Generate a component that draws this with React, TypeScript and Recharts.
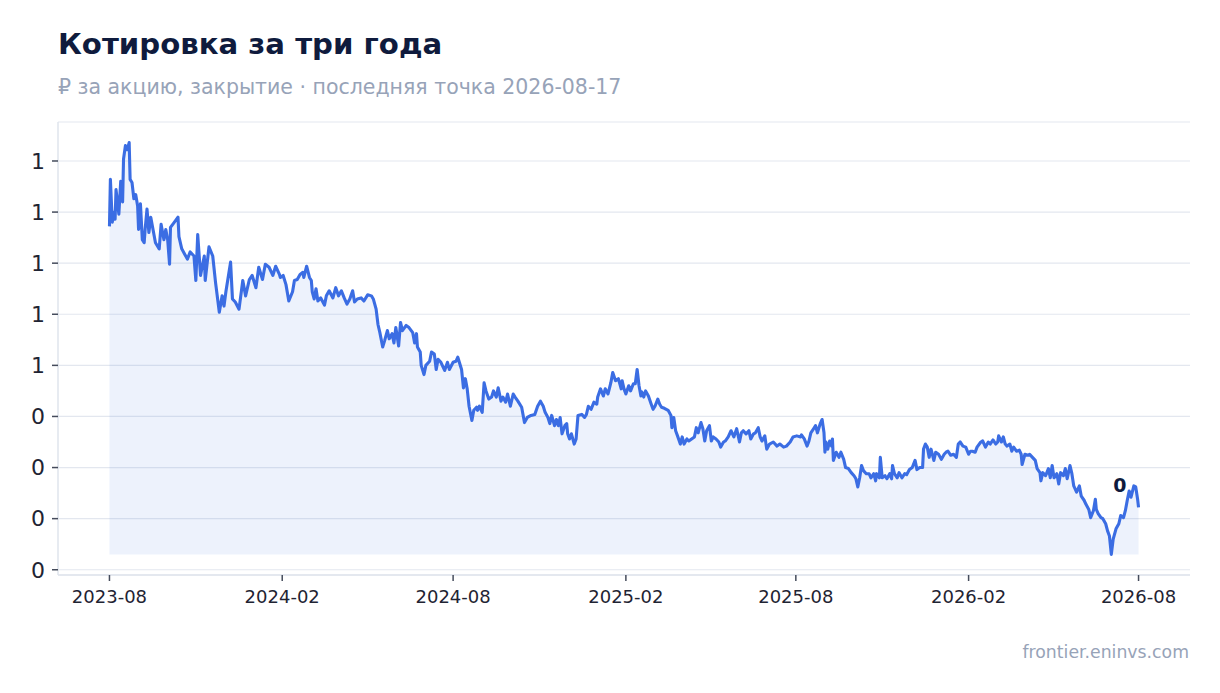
import { ComposedChart, Area, XAxis, YAxis, CartesianGrid } from "recharts"

const title = "Котировка за три года"
const subtitle = "₽ за акцию, закрытие · последняя точка 2026-08-17"
const source = "frontier.eninvs.com"

// [дата, цена закрытия]
const quotes2023: [string, number][] = [
    ["2023-08-17", 0.636], ["2023-08-18", 0.682], ["2023-08-20", 0.640], ["2023-08-22", 0.650], ["2023-08-23", 0.643], ["2023-08-24", 0.672], ["2023-08-27", 0.648], ["2023-08-29", 0.680], ["2023-08-31", 0.660],
    ["2023-09-01", 0.702], ["2023-09-03", 0.715], ["2023-09-05", 0.711], ["2023-09-07", 0.718], ["2023-09-08", 0.682], ["2023-09-10", 0.679], ["2023-09-12", 0.663], ["2023-09-14", 0.667], ["2023-09-16", 0.656], ["2023-09-17", 0.633], ["2023-09-19", 0.658], ["2023-09-21", 0.623], ["2023-09-23", 0.620], ["2023-09-24", 0.633], ["2023-09-26", 0.653], ["2023-09-28", 0.630], ["2023-09-30", 0.645],
    ["2023-10-02", 0.635], ["2023-10-05", 0.620], ["2023-10-09", 0.614], ["2023-10-11", 0.638], ["2023-10-14", 0.623], ["2023-10-16", 0.633], ["2023-10-18", 0.623], ["2023-10-20", 0.599], ["2023-10-21", 0.635], ["2023-10-25", 0.640], ["2023-10-29", 0.645], ["2023-10-30", 0.626],
    ["2023-11-02", 0.614], ["2023-11-05", 0.609], ["2023-11-08", 0.604], ["2023-11-11", 0.611], ["2023-11-15", 0.607], ["2023-11-17", 0.583], ["2023-11-19", 0.628], ["2023-11-22", 0.588], ["2023-11-26", 0.607], ["2023-11-27", 0.583],
    ["2023-12-01", 0.616], ["2023-12-05", 0.607], ["2023-12-08", 0.581], ["2023-12-12", 0.552], ["2023-12-15", 0.568], ["2023-12-17", 0.558], ["2023-12-19", 0.572], ["2023-12-24", 0.601], ["2023-12-26", 0.565], ["2023-12-29", 0.562],
]

const quotes2024: [string, number][] = [
    ["2024-01-02", 0.555], ["2024-01-06", 0.583], ["2024-01-09", 0.568], ["2024-01-13", 0.584], ["2024-01-16", 0.588], ["2024-01-20", 0.576], ["2024-01-23", 0.596], ["2024-01-27", 0.584], ["2024-01-30", 0.599],
    ["2024-02-03", 0.596], ["2024-02-07", 0.588], ["2024-02-10", 0.597], ["2024-02-14", 0.589], ["2024-02-15", 0.586], ["2024-02-18", 0.588], ["2024-02-21", 0.579], ["2024-02-24", 0.563], ["2024-02-28", 0.572],
    ["2024-03-01", 0.583], ["2024-03-04", 0.584], ["2024-03-07", 0.589], ["2024-03-10", 0.591], ["2024-03-11", 0.586], ["2024-03-14", 0.597], ["2024-03-17", 0.586], ["2024-03-19", 0.583], ["2024-03-20", 0.572], ["2024-03-22", 0.565], ["2024-03-24", 0.575], ["2024-03-26", 0.563], ["2024-03-29", 0.566],
    ["2024-04-02", 0.559], ["2024-04-04", 0.568], ["2024-04-07", 0.573], ["2024-04-11", 0.566], ["2024-04-14", 0.576], ["2024-04-17", 0.568], ["2024-04-20", 0.573], ["2024-04-23", 0.566], ["2024-04-26", 0.560], ["2024-04-29", 0.565],
    ["2024-05-02", 0.573], ["2024-05-04", 0.562], ["2024-05-07", 0.565], ["2024-05-11", 0.566], ["2024-05-14", 0.563], ["2024-05-18", 0.569], ["2024-05-22", 0.568], ["2024-05-24", 0.565], ["2024-05-27", 0.555], ["2024-05-29", 0.540], ["2024-05-31", 0.532],
    ["2024-06-03", 0.518], ["2024-06-05", 0.524], ["2024-06-08", 0.534], ["2024-06-10", 0.526], ["2024-06-13", 0.531], ["2024-06-15", 0.522], ["2024-06-17", 0.537], ["2024-06-20", 0.519], ["2024-06-22", 0.542], ["2024-06-24", 0.534], ["2024-06-28", 0.539],
    ["2024-07-01", 0.537], ["2024-07-05", 0.532], ["2024-07-07", 0.522], ["2024-07-09", 0.531], ["2024-07-10", 0.518], ["2024-07-13", 0.513], ["2024-07-14", 0.500], ["2024-07-17", 0.491], ["2024-07-19", 0.500], ["2024-07-23", 0.504], ["2024-07-25", 0.513], ["2024-07-28", 0.511], ["2024-07-30", 0.496],
    ["2024-08-01", 0.506], ["2024-08-04", 0.503], ["2024-08-08", 0.495], ["2024-08-11", 0.503], ["2024-08-13", 0.496], ["2024-08-17", 0.503], ["2024-08-20", 0.504], ["2024-08-22", 0.508], ["2024-08-26", 0.496], ["2024-08-28", 0.478], ["2024-08-30", 0.487],
    ["2024-09-01", 0.477], ["2024-09-03", 0.460], ["2024-09-06", 0.446], ["2024-09-08", 0.456], ["2024-09-11", 0.459], ["2024-09-12", 0.456], ["2024-09-14", 0.460], ["2024-09-17", 0.454], ["2024-09-19", 0.483], ["2024-09-21", 0.475], ["2024-09-24", 0.467], ["2024-09-27", 0.469], ["2024-09-29", 0.475],
    ["2024-10-02", 0.469], ["2024-10-04", 0.478], ["2024-10-07", 0.465], ["2024-10-09", 0.469], ["2024-10-12", 0.464], ["2024-10-14", 0.472], ["2024-10-17", 0.460], ["2024-10-20", 0.472], ["2024-10-22", 0.469], ["2024-10-25", 0.465], ["2024-10-29", 0.459],
    ["2024-11-01", 0.444], ["2024-11-04", 0.449], ["2024-11-08", 0.451], ["2024-11-12", 0.452], ["2024-11-15", 0.460], ["2024-11-18", 0.465], ["2024-11-21", 0.460], ["2024-11-23", 0.454], ["2024-11-26", 0.449], ["2024-11-28", 0.443], ["2024-11-30", 0.451],
    ["2024-12-03", 0.441], ["2024-12-05", 0.447], ["2024-12-07", 0.441], ["2024-12-09", 0.449], ["2024-12-11", 0.433], ["2024-12-14", 0.441], ["2024-12-16", 0.443], ["2024-12-17", 0.433], ["2024-12-19", 0.428], ["2024-12-21", 0.433], ["2024-12-24", 0.423], ["2024-12-26", 0.428], ["2024-12-28", 0.451],
]

const quotes2025: [string, number][] = [
    ["2025-01-01", 0.452], ["2025-01-04", 0.449], ["2025-01-06", 0.452], ["2025-01-08", 0.460], ["2025-01-11", 0.457], ["2025-01-14", 0.464], ["2025-01-17", 0.462], ["2025-01-18", 0.469], ["2025-01-21", 0.477], ["2025-01-24", 0.470], ["2025-01-26", 0.477], ["2025-01-29", 0.472],
    ["2025-02-01", 0.483], ["2025-02-03", 0.493], ["2025-02-06", 0.485], ["2025-02-09", 0.487], ["2025-02-12", 0.477], ["2025-02-13", 0.485], ["2025-02-15", 0.477], ["2025-02-17", 0.472], ["2025-02-20", 0.480], ["2025-02-22", 0.475], ["2025-02-25", 0.482], ["2025-02-27", 0.482],
    ["2025-03-01", 0.496], ["2025-03-03", 0.480], ["2025-03-05", 0.470], ["2025-03-06", 0.474], ["2025-03-08", 0.469], ["2025-03-10", 0.475], ["2025-03-13", 0.470], ["2025-03-16", 0.462], ["2025-03-18", 0.457], ["2025-03-20", 0.460], ["2025-03-23", 0.467], ["2025-03-25", 0.462], ["2025-03-27", 0.459], ["2025-03-30", 0.458],
    ["2025-04-01", 0.457], ["2025-04-03", 0.456], ["2025-04-06", 0.451], ["2025-04-07", 0.439], ["2025-04-09", 0.449], ["2025-04-11", 0.436], ["2025-04-13", 0.431], ["2025-04-16", 0.423], ["2025-04-18", 0.430], ["2025-04-20", 0.423], ["2025-04-23", 0.428], ["2025-04-25", 0.426], ["2025-04-28", 0.428],
    ["2025-05-01", 0.430], ["2025-05-03", 0.439], ["2025-05-05", 0.434], ["2025-05-08", 0.444], ["2025-05-10", 0.438], ["2025-05-12", 0.426], ["2025-05-14", 0.436], ["2025-05-17", 0.441], ["2025-05-19", 0.426], ["2025-05-21", 0.430], ["2025-05-24", 0.428], ["2025-05-27", 0.425], ["2025-05-29", 0.420],
    ["2025-06-01", 0.425], ["2025-06-03", 0.426], ["2025-06-06", 0.430], ["2025-06-09", 0.436], ["2025-06-12", 0.430], ["2025-06-15", 0.438], ["2025-06-18", 0.425], ["2025-06-20", 0.434], ["2025-06-22", 0.436], ["2025-06-25", 0.433], ["2025-06-28", 0.436], ["2025-06-30", 0.428],
    ["2025-07-03", 0.433], ["2025-07-05", 0.434], ["2025-07-08", 0.439], ["2025-07-10", 0.430], ["2025-07-12", 0.426], ["2025-07-15", 0.431], ["2025-07-17", 0.418], ["2025-07-20", 0.423], ["2025-07-24", 0.425], ["2025-07-28", 0.421], ["2025-07-31", 0.423],
    ["2025-08-04", 0.420], ["2025-08-07", 0.421], ["2025-08-11", 0.425], ["2025-08-14", 0.430], ["2025-08-18", 0.431], ["2025-08-22", 0.430], ["2025-08-23", 0.432], ["2025-08-26", 0.428], ["2025-08-29", 0.421], ["2025-08-31", 0.426],
    ["2025-09-02", 0.434], ["2025-09-05", 0.438], ["2025-09-07", 0.441], ["2025-09-09", 0.434], ["2025-09-12", 0.443], ["2025-09-14", 0.447], ["2025-09-16", 0.434], ["2025-09-17", 0.415], ["2025-09-18", 0.425], ["2025-09-20", 0.418], ["2025-09-22", 0.426], ["2025-09-24", 0.421], ["2025-09-25", 0.428], ["2025-09-26", 0.407], ["2025-09-29", 0.415],
    ["2025-10-02", 0.410], ["2025-10-04", 0.415], ["2025-10-07", 0.408], ["2025-10-09", 0.400], ["2025-10-12", 0.399], ["2025-10-15", 0.395], ["2025-10-18", 0.392], ["2025-10-20", 0.389], ["2025-10-22", 0.381], ["2025-10-24", 0.390], ["2025-10-26", 0.402], ["2025-10-28", 0.397], ["2025-10-31", 0.394],
    ["2025-11-03", 0.394], ["2025-11-05", 0.390], ["2025-11-08", 0.394], ["2025-11-10", 0.387], ["2025-11-11", 0.394], ["2025-11-14", 0.390], ["2025-11-15", 0.410], ["2025-11-17", 0.390], ["2025-11-20", 0.392], ["2025-11-22", 0.389], ["2025-11-25", 0.394], ["2025-11-27", 0.389], ["2025-11-28", 0.402], ["2025-11-30", 0.394],
    ["2025-12-03", 0.390], ["2025-12-05", 0.395], ["2025-12-08", 0.390], ["2025-12-11", 0.394], ["2025-12-13", 0.393], ["2025-12-16", 0.398], ["2025-12-19", 0.400], ["2025-12-22", 0.407], ["2025-12-24", 0.398], ["2025-12-27", 0.400], ["2025-12-30", 0.400], ["2025-12-31", 0.418],
]

const quotes2026: [string, number][] = [
    ["2026-01-02", 0.423], ["2026-01-04", 0.420], ["2026-01-06", 0.410], ["2026-01-08", 0.418], ["2026-01-11", 0.407], ["2026-01-13", 0.415], ["2026-01-16", 0.413], ["2026-01-19", 0.408], ["2026-01-22", 0.413], ["2026-01-24", 0.415], ["2026-01-26", 0.416], ["2026-01-29", 0.412],
    ["2026-02-01", 0.413], ["2026-02-04", 0.410], ["2026-02-06", 0.423], ["2026-02-08", 0.425], ["2026-02-11", 0.421], ["2026-02-14", 0.420], ["2026-02-17", 0.413], ["2026-02-19", 0.416], ["2026-02-21", 0.416], ["2026-02-24", 0.415], ["2026-02-26", 0.420],
    ["2026-03-02", 0.425], ["2026-03-04", 0.426], ["2026-03-07", 0.420], ["2026-03-10", 0.425], ["2026-03-12", 0.423], ["2026-03-15", 0.427], ["2026-03-18", 0.423], ["2026-03-20", 0.425], ["2026-03-21", 0.431], ["2026-03-24", 0.425], ["2026-03-26", 0.430], ["2026-03-28", 0.423], ["2026-03-30", 0.421],
    ["2026-04-02", 0.423], ["2026-04-04", 0.416], ["2026-04-06", 0.420], ["2026-04-09", 0.416], ["2026-04-12", 0.417], ["2026-04-14", 0.413], ["2026-04-15", 0.403], ["2026-04-18", 0.413], ["2026-04-21", 0.412], ["2026-04-23", 0.413], ["2026-04-26", 0.410], ["2026-04-29", 0.407],
    ["2026-05-01", 0.399], ["2026-05-04", 0.395], ["2026-05-05", 0.387], ["2026-05-07", 0.395], ["2026-05-10", 0.392], ["2026-05-13", 0.399], ["2026-05-15", 0.390], ["2026-05-17", 0.402], ["2026-05-19", 0.390], ["2026-05-22", 0.394], ["2026-05-24", 0.384], ["2026-05-26", 0.395], ["2026-05-29", 0.392], ["2026-05-31", 0.399],
    ["2026-06-02", 0.389], ["2026-06-05", 0.402], ["2026-06-07", 0.394], ["2026-06-09", 0.382], ["2026-06-12", 0.376], ["2026-06-15", 0.382], ["2026-06-17", 0.372], ["2026-06-20", 0.368], ["2026-06-22", 0.364], ["2026-06-25", 0.359], ["2026-06-27", 0.351], ["2026-06-30", 0.358],
    ["2026-07-02", 0.369], ["2026-07-03", 0.359], ["2026-07-05", 0.355], ["2026-07-08", 0.351], ["2026-07-10", 0.350], ["2026-07-13", 0.345], ["2026-07-15", 0.338], ["2026-07-17", 0.333], ["2026-07-19", 0.315], ["2026-07-21", 0.330], ["2026-07-24", 0.340], ["2026-07-27", 0.345], ["2026-07-29", 0.353],
    ["2026-08-01", 0.351], ["2026-08-03", 0.358], ["2026-08-05", 0.368], ["2026-08-07", 0.377], ["2026-08-09", 0.371], ["2026-08-12", 0.382], ["2026-08-14", 0.381], ["2026-08-16", 0.369], ["2026-08-17", 0.361],
]

const yTicks = [0.3, 0.35, 0.4, 0.45, 0.5, 0.55, 0.6, 0.65, 0.7]
const xTickDates = ["2023-08-17", "2024-02-17", "2024-08-17", "2025-02-17", "2025-08-17", "2026-02-17", "2026-08-17"]

const rows = [...quotes2023, ...quotes2024, ...quotes2025, ...quotes2026].map(([date, close]) => ({
    t: Date.parse(date),
    close,
}))
const closes = rows.map(r => r.close)
const minClose = Math.min(...closes)
const maxClose = Math.max(...closes)
const yPad = (maxClose - minClose) * 0.05
const tStart = rows[0].t
const tEnd = rows[rows.length - 1].t
const xPad = (tEnd - tStart) * 0.05
const xTicks = xTickDates.map(d => Date.parse(d))

const FONT = "'DejaVu Sans', sans-serif"
const BLUE = "#3b6de3"
const INK = "#0f1b3d"
const MUTED = "#97a3b8"
const AXIS = "#dfe4ec"
const TICK = "#1f2433"

// подпись у последней точки
function EndLabel(props: any) {
    const { cx, cy, index } = props
    if (index !== rows.length - 1) return <g key={`d${index}`} />
    return (
        <text key="end-label" x={cx - 12} y={cy - 15} textAnchor="end" fontSize={19} fontWeight={700} fill={INK}>
            {Math.round(rows[index].close)}
        </text>
    )
}

export default function App() {
    return (
        <div style={{ position: "absolute", left: 0, top: 0, width: 1220, height: 693, background: "#fff", fontFamily: FONT }}>
            <svg width={1220} height={693} style={{ position: "absolute", left: 0, top: 0 }}>
                <text x={58} y={54} fontSize={29.2} fontWeight={700} fill={INK}>{title}</text>
                <text x={58} y={94} fontSize={20.5} fill={MUTED}>{subtitle}</text>
                <text x={1189} y={658} fontSize={17.3} fill={MUTED} textAnchor="end">{source}</text>
            </svg>
            <div style={{ position: "absolute", left: 0, top: 0 }}>
                <ComposedChart width={1220} height={693} data={rows} margin={{ top: 122, right: 30, bottom: 87, left: 0 }}>
                    <CartesianGrid vertical={false} stroke="#e3e7ef" strokeWidth={1.2} />
                    <XAxis
                        type="number"
                        dataKey="t"
                        domain={[tStart - xPad, tEnd + xPad]}
                        ticks={xTicks}
                        tickFormatter={(t: number) => new Date(t).toISOString().slice(0, 7)}
                        height={31}
                        axisLine={{ stroke: AXIS, strokeWidth: 1.5 }}
                        tickLine={{ stroke: "#454c5c", strokeWidth: 1.5 }}
                        tickSize={6}
                        tickMargin={9}
                        tick={{ fontSize: 18, fill: TICK }}
                        allowDataOverflow
                    />
                    <YAxis
                        type="number"
                        domain={[minClose - yPad, maxClose + yPad]}
                        ticks={yTicks}
                        tickFormatter={(v: number) => String(Math.round(v))}
                        width={58}
                        axisLine={{ stroke: AXIS, strokeWidth: 1.5 }}
                        tickLine={{ stroke: "#454c5c", strokeWidth: 1.5 }}
                        tickSize={6}
                        tickMargin={7}
                        tick={{ fontSize: 22, fill: TICK }}
                        allowDataOverflow
                    />
                    <Area
                        type="linear"
                        dataKey="close"
                        baseValue={minClose}
                        stroke={BLUE}
                        strokeWidth={3.1}
                        strokeLinejoin="round"
                        fill={BLUE}
                        fillOpacity={0.09}
                        dot={EndLabel}
                        activeDot={false}
                        isAnimationActive={false}
                    />
                </ComposedChart>
            </div>
        </div>
    )
}
